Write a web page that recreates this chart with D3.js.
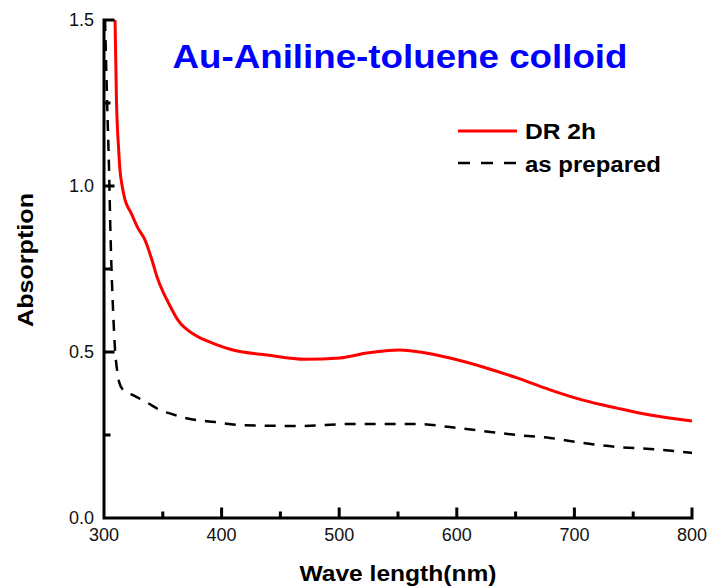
<html>

<head>
  <title>Au-Aniline-toluene colloid</title>
  <script src="https://d3js.org/d3.v7.min.js"></script>

  <style>
    body {
      margin: 0;
      background: white;
    }

    svg text {
      font-family: "Liberation Sans", Arial, sans-serif;
    }

    .axisline {
      fill: none;
      stroke: #000000;
      stroke-width: 3px;
    }
  </style>
</head>

<body>
  <svg id="chart" width="709" height="587"></svg>

  <script>

    // ---- data
    // wavelength (nm) / absorption for the "DR 2h" curve
    const drWave = [309.4, 310.6, 312.5, 313.6, 315.3, 317.9, 323, 328.9, 334.9, 340.8, 345.1, 350.2, 354.4,
      362.9, 377.4, 394.4, 409.7, 438.6, 470.9, 500.7, 523.6, 551.7, 568.7, 594.2, 622.3, 651.2, 679.3,
      707.3, 736.2, 764.3, 800];
    const drAbs = [1.5, 1.259, 1.108, 1.048, 1.003, 0.958, 0.919, 0.873, 0.837, 0.777, 0.726, 0.681, 0.651,
      0.596, 0.551, 0.524, 0.506, 0.491, 0.478, 0.482, 0.497, 0.506, 0.5, 0.482, 0.455, 0.422, 0.386,
      0.355, 0.331, 0.31, 0.292];

    // "as prepared" curve
    const prepWave = [300.9, 302.6, 304.3, 305.5, 306.8, 307.7, 309.4, 311.1, 312.8, 316.2, 324.7, 337.4,
      347.6, 357.8, 373.1, 394.4, 415.6, 466.7, 509.2, 551.7, 566.2, 594.2, 622.3, 651.2, 679.3, 707.3,
      736.2, 764.3, 800];
    const prepAbs = [1.5, 1.259, 1.048, 0.858, 0.708, 0.627, 0.506, 0.446, 0.41, 0.386, 0.37, 0.346,
      0.325, 0.313, 0.298, 0.289, 0.28, 0.277, 0.283, 0.283, 0.283, 0.274, 0.262, 0.25, 0.241, 0.226,
      0.214, 0.208, 0.196];

    const xTicks = [300, 400, 500, 600, 700, 800];
    const xMinorTicks = [350, 450, 550, 650, 750];
    const yTicks = [0, 0.5, 1.0, 1.5];
    const yMinorTicks = [0.25, 0.75, 1.25];

    const seriesNames = ["DR 2h", "as prepared"];

    // ---- layout
    const svg = d3.select("svg#chart");
    const margin = { top: 20, right: 17, bottom: 69, left: 104 };
    const width = +svg.attr("width");
    const height = +svg.attr("height");
    const chartWidth = width - margin.left - margin.right;
    const chartHeight = height - margin.top - margin.bottom;

    const xScale = d3.scaleLinear().domain([300, 800]).range([margin.left, margin.left + chartWidth]);
    const yScale = d3.scaleLinear().domain([0, 1.5]).range([margin.top + chartHeight, margin.top]);

    // ---- curves
    const line = d3.line()
      .x(d => xScale(d[0]))
      .y(d => yScale(d[1]))
      .curve(d3.curveMonotoneX);

    const drData = drWave.map((w, i) => [w, drAbs[i]]);
    const prepData = prepWave.map((w, i) => [w, prepAbs[i]]);

    svg.append("path")
      .datum(prepData)
      .attr("d", line)
      .attr("fill", "none")
      .attr("stroke", "black")
      .attr("stroke-width", 2.5)
      .attr("stroke-dasharray", "11,9");

    svg.append("path")
      .datum(drData)
      .attr("d", line)
      .attr("fill", "none")
      .attr("stroke", "#ff0000")
      .attr("stroke-width", 3);

    // ---- axes: one path for the frame and every tick (ticks point inward)
    const x0 = xScale(300), x1 = xScale(800);
    const y0 = yScale(0), y1 = yScale(1.5);
    let axisPath = `M${x0},${y1}L${x0},${y0}L${x1},${y0}`;
    xTicks.forEach(d => { axisPath += `M${xScale(d)},${y0}L${xScale(d)},${y0 - 9}`; });
    xMinorTicks.forEach(d => { axisPath += `M${xScale(d)},${y0}L${xScale(d)},${y0 - 5}`; });
    yTicks.forEach(d => { axisPath += `M${x0},${yScale(d)}L${x0 + 9},${yScale(d)}`; });
    yMinorTicks.forEach(d => { axisPath += `M${x0},${yScale(d)}L${x0 + 5},${yScale(d)}`; });

    svg.append("path")
      .attr("class", "axisline")
      .attr("d", axisPath)
      .attr("stroke-linecap", "square");

    svg.selectAll("text.xlabel")
      .data(xTicks)
      .join("text")
      .attr("class", "xlabel")
      .attr("x", d => xScale(d))
      .attr("y", y0 + 23)
      .attr("text-anchor", "middle")
      .attr("font-size", 18)
      .attr("fill", "#111")
      .text(d => d3.format("d")(d));

    svg.selectAll("text.ylabel")
      .data(yTicks)
      .join("text")
      .attr("class", "ylabel")
      .attr("x", x0 - 10)
      .attr("y", d => yScale(d))
      .attr("dy", "0.32em")
      .attr("text-anchor", "end")
      .attr("font-size", 18)
      .attr("fill", "#111")
      .text(d => d3.format(".1f")(d));

    // ---- legend
    let legend = svg.append("g").attr("transform", "translate(458,131)");
    legend.append("line")
      .attr("x1", 0).attr("x2", 59).attr("y1", 0).attr("y2", 0)
      .attr("stroke", "#ff0000").attr("stroke-width", 3);
    legend.append("line")
      .attr("x1", 0).attr("x2", 58).attr("y1", 32).attr("y2", 32)
      .attr("stroke", "black").attr("stroke-width", 2.5)
      .attr("stroke-dasharray", "12,11");
    legend.append("text")
      .attr("x", 67).attr("y", 8)
      .attr("font-size", 22).attr("font-weight", "bold")
      .attr("textLength", 71).attr("lengthAdjust", "spacingAndGlyphs")
      .text(seriesNames[0]);
    legend.append("text")
      .attr("x", 67).attr("y", 41)
      .attr("font-size", 22).attr("font-weight", "bold")
      .attr("textLength", 136).attr("lengthAdjust", "spacingAndGlyphs")
      .text(seriesNames[1]);

    // ---- titles
    svg.append("text")
      .attr("x", 400).attr("y", 68)
      .attr("text-anchor", "middle")
      .attr("font-size", 34).attr("font-weight", "bold")
      .attr("fill", "#0000ff")
      .attr("textLength", 455).attr("lengthAdjust", "spacingAndGlyphs")
      .text("Au-Aniline-toluene colloid");

    svg.append("text")
      .attr("x", 398).attr("y", 581)
      .attr("text-anchor", "middle")
      .attr("font-size", 22).attr("font-weight", "bold")
      .attr("textLength", 197).attr("lengthAdjust", "spacingAndGlyphs")
      .text("Wave length(nm)");

    svg.append("text")
      .attr("transform", "translate(33,260) rotate(-90)")
      .attr("text-anchor", "middle")
      .attr("font-size", 22).attr("font-weight", "bold")
      .attr("textLength", 134).attr("lengthAdjust", "spacingAndGlyphs")
      .text("Absorption");

  </script>
</body>

</html>
